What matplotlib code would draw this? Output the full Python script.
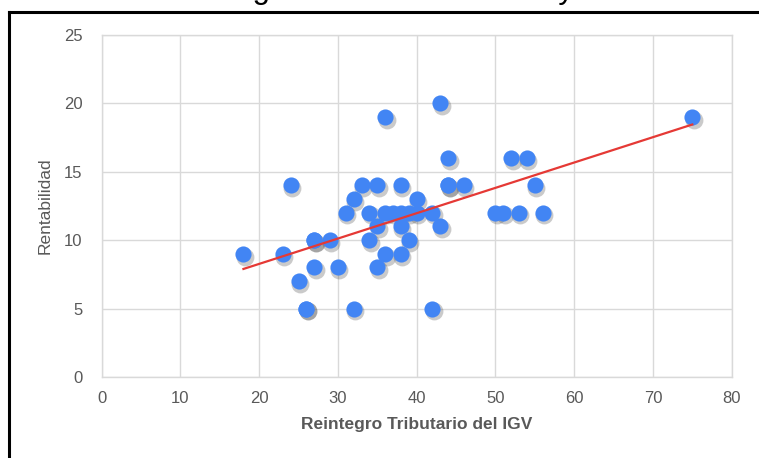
import matplotlib.pyplot as plt
import matplotlib.transforms as mtransforms
import numpy as np

# datos
reintegro = [18, 23, 24, 25, 26, 26, 27, 27, 27, 29, 30, 31, 32, 32, 33, 34, 34,
             35, 35, 35, 36, 36, 36, 37, 38, 38, 38, 38, 39, 39, 40, 40, 42, 42,
             43, 43, 44, 44, 44, 46, 50, 51, 52, 53, 54, 55, 56, 75]
rentabilidad = [9, 9, 14, 7, 5, 5, 10, 10, 8, 10, 8, 12, 13, 5, 14, 12, 10,
                14, 11, 8, 19, 12, 9, 12, 14, 12, 11, 9, 12, 10, 13, 12, 12, 5,
                20, 11, 16, 14, 14, 14, 12, 12, 16, 12, 16, 14, 12, 19]

x_ticks = [0, 10, 20, 30, 40, 50, 60, 70, 80]
y_ticks = [0, 5, 10, 15, 20, 25]

plt.rcParams['font.family'] = ['Liberation Sans Narrow', 'Liberation Sans', 'DejaVu Sans']

fig = plt.figure(figsize=(7.59, 4.58), dpi=100)
ax = fig.add_axes([0.134, 0.177, 0.830, 0.747])

x = np.array(reintegro)
y = np.array(rentabilidad)

# sombra de los puntos
sombra = mtransforms.offset_copy(ax.transData, fig=fig, x=1.0, y=-2.0, units='points')
ax.scatter(x, y, s=165, color='#444444', alpha=0.28, linewidths=0,
           transform=sombra, zorder=2)
ax.scatter(x, y, s=135, color='#4285F4', linewidths=0, zorder=3)

# linea de tendencia
m, b = np.polyfit(x, y, 1)
xs = np.array([x.min(), x.max()])
ax.plot(xs, m * xs + b, color='#E53935', lw=1.6, zorder=4)

ax.set_xlim(0, 80)
ax.set_ylim(0, 25)
ax.set_xticks(x_ticks)
ax.set_yticks(y_ticks)
ax.grid(True, color='#D9D9D9', lw=1.0, zorder=0)
ax.set_axisbelow(True)
for s in ax.spines.values():
    s.set_color('#D9D9D9')
    s.set_linewidth(1.0)
ax.tick_params(length=0, labelsize=12, labelcolor='#595959')
ax.tick_params(axis='y', pad=14)
ax.tick_params(axis='x', pad=10)

ax.set_xlabel('Reintegro Tributario del IGV', fontsize=12.5, fontweight='bold',
              color='#595959', labelpad=8)
ax.set_ylabel('Rentabilidad', fontsize=12.5, color='#595959', labelpad=8)

# titulo recortado arriba
fig.text(162 / 759, 1 + 2 / 458, 'Reintegro Tributario del IGV y Rentabilidad',
         fontsize=22.5, family='Liberation Sans', ha='left', va='baseline', color='black')

# marco
fig.add_artist(plt.Line2D([9 / 759, 1], [1 - 12 / 458, 1 - 12 / 458],
                          color='black', lw=2.2, transform=fig.transFigure))
fig.add_artist(plt.Line2D([9 / 759, 9 / 759], [0, 1 - 12 / 458],
                          color='black', lw=2.2, transform=fig.transFigure))

fig.savefig('out.png', dpi=100)
